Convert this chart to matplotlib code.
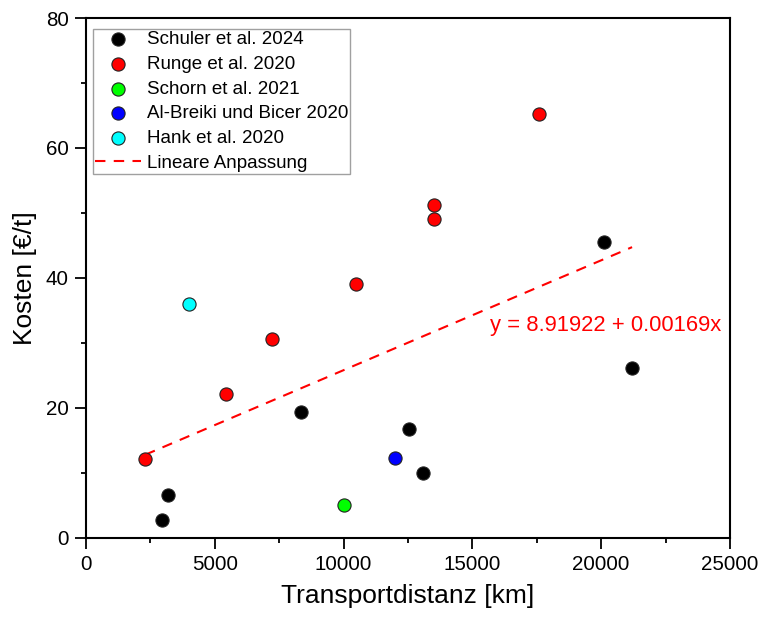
import matplotlib
matplotlib.use('Agg')
import matplotlib.pyplot as plt
from matplotlib.ticker import MultipleLocator

plt.rcParams['font.family'] = ['Liberation Sans', 'DejaVu Sans']

# Daten
schuler_x = [2950, 3200, 8350, 12550, 13100, 20100, 21200]
schuler_y = [2.7, 6.6, 19.4, 16.7, 10.0, 45.6, 26.2]
runge_x = [2300, 5430, 7230, 10500, 13500, 13500, 17600]
runge_y = [12.2, 22.2, 30.6, 39.0, 51.2, 49.0, 65.2]
schorn_x = [10000]
schorn_y = [5.0]
albreiki_x = [12000]
albreiki_y = [12.3]
hank_x = [4000]
hank_y = [36.0]

a = 8.91922
b = 0.00169
fit_x = [2300, 21200]

def main():
    fig = plt.figure(figsize=(7.63, 6.21), dpi=100)
    ax = fig.add_axes([0.1127, 0.1337, 0.8440, 0.8373])

    kw = dict(s=90, edgecolors='#222222', linewidths=0.8, zorder=3)
    ax.scatter(schuler_x, schuler_y, color='black', label='Schuler et al. 2024', **kw)
    ax.scatter(runge_x, runge_y, color='#ff0000', label='Runge et al. 2020', **kw)
    ax.scatter(schorn_x, schorn_y, color='#00ff00', label='Schorn et al. 2021', **kw)
    ax.scatter(albreiki_x, albreiki_y, color='#0000ff', label='Al-Breiki und Bicer 2020', **kw)
    ax.scatter(hank_x, hank_y, color='#00ffff', label='Hank et al. 2020', **kw)

    fit_y = [a + b * x for x in fit_x]
    ax.plot(fit_x, fit_y, color='#ff0000', linestyle=(0, (5, 4)), linewidth=1.5,
            label='Lineare Anpassung', zorder=2)

    ax.text(15700, 32.7, 'y = 8.91922 + 0.00169x', color='#ff0000', fontsize=15.8,
            ha='left', va='center')

    ax.set_xlim(0, 25000)
    ax.set_ylim(0, 80)
    ax.xaxis.set_major_locator(MultipleLocator(5000))
    ax.xaxis.set_minor_locator(MultipleLocator(2500))
    ax.yaxis.set_major_locator(MultipleLocator(20))
    ax.yaxis.set_minor_locator(MultipleLocator(10))
    ax.tick_params(which='major', direction='out', length=8, width=1.3, pad=4.5,
                   labelsize=14.8)
    ax.tick_params(which='minor', direction='out', length=3.5, width=1.3)
    for s in ax.spines.values():
        s.set_linewidth(1.5)

    ax.set_xlabel('Transportdistanz [km]', fontsize=19, labelpad=7)
    ax.set_ylabel('Kosten [€/t]', fontsize=19, labelpad=6)

    leg = ax.legend(loc='upper left', bbox_to_anchor=(0.0109, 0.979), borderaxespad=0,
                    fontsize=13.5, frameon=True, fancybox=False, edgecolor='#888888',
                    handlelength=2.45, handletextpad=0.32, labelspacing=0.41,
                    borderpad=0.1, scatterpoints=1)
    leg.get_frame().set_linewidth(1.0)

    fig.savefig('out.png', dpi=100)
    return 0

main()
